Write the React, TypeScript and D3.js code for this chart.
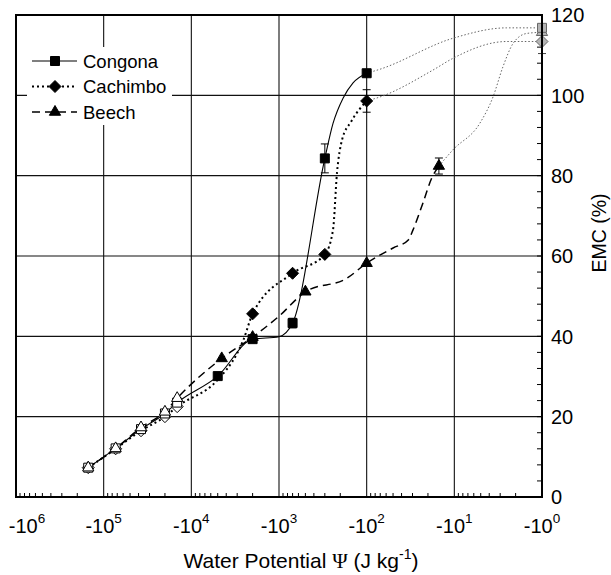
import React from "react";
import * as d3 from "d3";

// axis ticks
const decades = [-1e6, -1e5, -1e4, -1e3, -1e2, -1e1, -1e0];
const emcTicks = [0, 20, 40, 60, 80, 100, 120];
const emcMinor = d3.range(0, 121, 4);

// measured points (psi in J/kg, EMC in %)
const congonaPsi = [-150000, -73000, -37500, -20000, -14500, -5000, -2000, -700, -300, -100, -1];
const congonaEmc = [7.3, 12.1, 16.9, 20.8, 23.5, 30.1, 39.3, 43.3, 84.3, 105.5, 116.8];
const congonaErr = [0, 0, 0, 0, 0, 0, 0, 1.2, 3.6, 0, 0];

const cachimboPsi = [-150000, -73000, -37500, -20000, -14500, -2000, -700, -300, -100, -1];
const cachimboEmc = [7.3, 12.0, 16.5, 20.0, 22.5, 45.6, 55.7, 60.4, 98.6, 113.4];
const cachimboErr = [0, 0, 0, 0, 0, 0, 0, 0, 2.8, 3];

const beechPsi = [-150000, -73000, -37500, -20000, -14500, -4500, -2000, -500, -100, -15, -1];
const beechEmc = [7.3, 12.1, 17.3, 21.2, 24.6, 34.5, 39.8, 51.1, 58.2, 82.4, 115.7];
const beechErr = [0, 0, 0, 0, 0, 0, 0, 0, 0, 2, 0];

// fitted curves
const congonaFitPsi = [-150000, -73000, -37500, -20000, -14500, -5000, -2000, -1000, -700, -300, -242, -186, -143, -100];
const congonaFitEmc = [7.3, 12.1, 16.9, 20.8, 23.5, 30.1, 39.3, 39.9, 43.3, 84.3, 93.0, 99.3, 103.1, 105.5];
const congonaExtPsi = [-100, -70.5, -10.4, -2.53, -1];
const congonaExtEmc = [105.5, 106.5, 114.2, 116.8, 116.8];

const cachimboFitPsi = [-150000, -73000, -37500, -20000, -14500, -5100, -3000, -2550, -2000, -700, -300, -242, -218, -191, -151, -100];
const cachimboFitEmc = [7.3, 12.0, 16.5, 20.0, 22.5, 29.0, 35.8, 39.1, 45.6, 55.7, 60.4, 66.5, 80.7, 88.9, 93.4, 98.6];
const cachimboExtPsi = [-100, -70.5, -17.5, -10.4, -2.53, -1];
const cachimboExtEmc = [98.6, 99.6, 106.3, 109.2, 113.4, 113.4];

const beechFitPsi = [-150000, -73000, -37500, -20000, -14500, -4500, -2000, -1000, -500, -170, -100, -50, -33.5, -29.6, -22.8, -18.1, -15];
const beechFitEmc = [7.3, 12.1, 17.3, 21.2, 24.6, 34.5, 39.8, 45.0, 51.1, 54.4, 58.2, 62.0, 64.0, 66.5, 73.2, 79.4, 82.4];
const beechExtPsi = [-15, -10.4, -5.1, -3.62, -2.79, -2.14, -1.5, -1];
const beechExtEmc = [82.4, 86.4, 93.1, 99.6, 107.1, 112.9, 115.4, 115.7];

const zip = (a: number[], b: number[]) => a.map((v, i) => [v, b[i]] as [number, number]);

const series = [
  { name: "Congona", shape: "square", dash: null, width: 1.1, psi: congonaPsi, emc: congonaEmc, err: congonaErr, fit: zip(congonaFitPsi, congonaFitEmc), ext: zip(congonaExtPsi, congonaExtEmc) },
  { name: "Cachimbo", shape: "diamond", dash: "2 3", width: 2, psi: cachimboPsi, emc: cachimboEmc, err: cachimboErr, fit: zip(cachimboFitPsi, cachimboFitEmc), ext: zip(cachimboExtPsi, cachimboExtEmc) },
  { name: "Beech", shape: "triangle", dash: "8 5", width: 1.5, psi: beechPsi, emc: beechEmc, err: beechErr, fit: zip(beechFitPsi, beechFitEmc), ext: zip(beechExtPsi, beechExtEmc) },
];

const FONT = "'Liberation Sans', Arial, Helvetica, sans-serif";

function markerPath(shape: string) {
  if (shape === "square") return d3.symbol(d3.symbolSquare, 81)()!;
  if (shape === "triangle") return d3.symbol(d3.symbolTriangle, 55)()!;
  const r = 6;
  return `M0,${-r}L${r},0L0,${r}L${-r},0Z`;
}

export default function App() {
  const W = 611, H = 575;
  const left = 16, right = 542, top = 15, bottom = 497;
  const x = d3.scaleLog().domain([-1e6, -1]).range([left, right]);
  const y = d3.scaleLinear().domain([0, 120]).range([bottom, top]);

  const line = d3
    .line<[number, number]>()
    .x((d) => x(d[0]))
    .y((d) => y(d[1]))
    .curve(d3.curveMonotoneX);

  const xMinor = x.ticks().filter((t) => !Number.isInteger(Math.log10(-t)));

  const style = (p: number) => (p === -1 ? "gray" : p <= -10000 ? "open" : "filled");
  const fillOf = (s: string) => (s === "gray" ? "#b4b4b4" : s === "open" ? "#fff" : "#000");
  const strokeOf = (s: string) => (s === "gray" ? "#666" : "#000");

  const openOrder = [1, 0, 2];
  const filledOrder = [2, 1, 0];

  const drawMarkers = (si: number, kinds: string[]) => {
    const s = series[si];
    return s.psi.map((p, i) => {
      const k = style(p);
      if (!kinds.includes(k)) return null;
      return (
        <path
          key={`${s.name}-${i}`}
          d={markerPath(s.shape)}
          transform={`translate(${x(p)},${y(s.emc[i])})`}
          fill={fillOf(k)}
          stroke={strokeOf(k)}
          strokeWidth={1}
        />
      );
    });
  };

  return (
    <div style={{ position: "absolute", left: 0, top: 0 }}>
      <svg width={W} height={H} style={{ display: "block", background: "#fff" }} fontFamily={FONT}>
        {/* grid */}
        {decades.slice(1, -1).map((d) => (
          <line key={`gx${d}`} x1={x(d)} x2={x(d)} y1={top} y2={bottom} stroke="#111" strokeWidth={1.1} />
        ))}
        {emcTicks.slice(1, -1).map((v) => (
          <line key={`gy${v}`} x1={left} x2={right} y1={y(v)} y2={y(v)} stroke="#111" strokeWidth={1.1} />
        ))}

        {/* minor ticks */}
        {xMinor.map((t) => (
          <line key={`mx${t}`} x1={x(t)} x2={x(t)} y1={bottom} y2={bottom - 4} stroke="#000" strokeWidth={1} />
        ))}
        {emcMinor.map((v) => (
          <line key={`my${v}`} x1={right} x2={right - 5} y1={y(v)} y2={y(v)} stroke="#000" strokeWidth={1} />
        ))}

        {/* legend box */}
        <rect x={27} y={47} width={145} height={78} fill="#fff" />

        {/* extrapolated curves */}
        {series.map((s) => (
          <path key={`ext-${s.name}`} d={line(s.ext)!} fill="none" stroke="#666" strokeWidth={1} strokeDasharray="1.5 2" />
        ))}

        {/* fitted curves */}
        {series.map((s) => (
          <path
            key={`fit-${s.name}`}
            d={line(s.fit)!}
            fill="none"
            stroke="#000"
            strokeWidth={s.width}
            strokeDasharray={s.dash ?? undefined}
          />
        ))}

        {/* error bars */}
        {series.map((s) =>
          s.psi.map((p, i) =>
            s.err[i] > 0 ? (
              <g key={`err-${s.name}-${i}`} stroke={style(p) === "gray" ? "#444" : "#000"} strokeWidth={1}>
                <line x1={x(p)} x2={x(p)} y1={y(s.emc[i] - s.err[i])} y2={y(s.emc[i] + s.err[i])} />
                <line x1={x(p) - 4} x2={x(p) + 4} y1={y(s.emc[i] - s.err[i])} y2={y(s.emc[i] - s.err[i])} />
                <line x1={x(p) - 4} x2={x(p) + 4} y1={y(s.emc[i] + s.err[i])} y2={y(s.emc[i] + s.err[i])} />
              </g>
            ) : null
          )
        )}

        {/* markers */}
        {openOrder.map((si) => drawMarkers(si, ["open"]))}
        {filledOrder.map((si) => drawMarkers(si, ["filled"]))}
        {[1, 2, 0].map((si) => drawMarkers(si, ["gray"]))}

        {/* frame */}
        <rect x={left} y={top} width={right - left} height={bottom - top} fill="none" stroke="#000" strokeWidth={2} />

        {/* legend entries */}
        {series.map((s, i) => {
          const ly = 61 + i * 25.5;
          return (
            <g key={`leg-${s.name}`}>
              <line x1={32} x2={77} y1={ly} y2={ly} stroke="#000" strokeWidth={s.width} strokeDasharray={s.dash ?? undefined} />
              <path d={markerPath(s.shape)} transform={`translate(55,${ly})`} fill="#000" stroke="#000" strokeWidth={1} />
              <text x={83} y={ly + 6.5} fontSize={18.5}>
                {s.name}
              </text>
            </g>
          );
        })}

        {/* x tick labels */}
        {decades.map((d) => (
          <text key={`xl${d}`} x={Math.max(x(d), 27)} y={533} fontSize={20} textAnchor="middle">
            -10
            <tspan dy={-10} fontSize={13.5}>
              {Math.round(Math.log10(-d))}
            </tspan>
          </text>
        ))}

        {/* y tick labels */}
        {emcTicks.map((v) => (
          <text key={`yl${v}`} x={551} y={y(v) + 7.2} fontSize={20}>
            {v}
          </text>
        ))}

        {/* axis titles */}
        <text x={301} y={568} fontSize={21} textAnchor="middle">
          Water Potential <tspan fontFamily="'Liberation Serif', 'DejaVu Serif', serif">Ψ</tspan> (J kg
          <tspan dy={-9} fontSize={14}>
            -1
          </tspan>
          <tspan dy={9}>)</tspan>
        </text>
        <text transform="translate(606,233) rotate(-90)" fontSize={19.5} textAnchor="middle">
          EMC (%)
        </text>
      </svg>
    </div>
  );
}
